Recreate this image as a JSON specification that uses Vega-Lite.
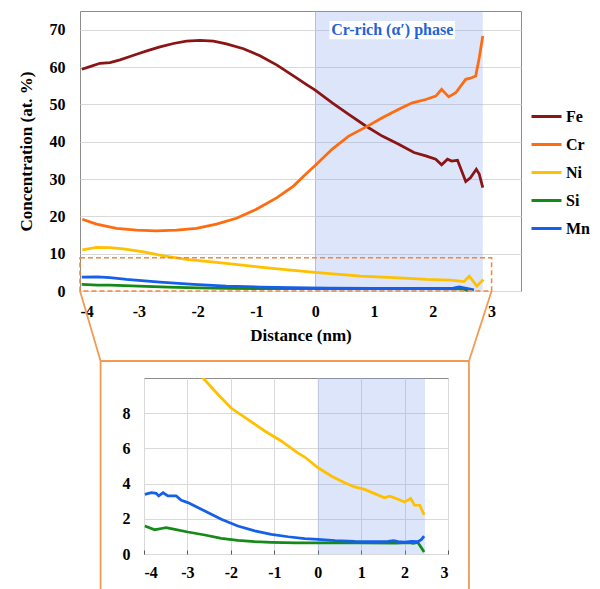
{
  "$schema": "https://vega.github.io/schema/vega-lite/v6.json",
  "background": "white",
  "padding": {"left": 16, "top": 10, "right": 0, "bottom": 0},
  "config": {
    "font": "Liberation Serif",
    "view": {"stroke": "#8c8c8c", "strokeWidth": 1},
    "axis": {
      "labelFont": "Liberation Serif", "labelFontWeight": "bold", "labelFontSize": 16, "labelColor": "black",
      "titleFont": "Liberation Serif", "titleFontWeight": "bold", "titleFontSize": 17, "titleColor": "black",
      "domain": false, "gridColor": "#d9d9d9", "gridWidth": 1, "ticks": false, "labelOverlap": false
    }
  },
  "datasets": {
    "top": [
      {"el": "Fe", "x": -3.97, "y": 59.4}, {"el": "Fe", "x": -3.83, "y": 60.1}, {"el": "Fe", "x": -3.66, "y": 61.0},
      {"el": "Fe", "x": -3.49, "y": 61.2}, {"el": "Fe", "x": -3.32, "y": 61.9}, {"el": "Fe", "x": -3.15, "y": 62.8},
      {"el": "Fe", "x": -3.0, "y": 63.6}, {"el": "Fe", "x": -2.85, "y": 64.4}, {"el": "Fe", "x": -2.64, "y": 65.4},
      {"el": "Fe", "x": -2.41, "y": 66.3}, {"el": "Fe", "x": -2.19, "y": 66.9}, {"el": "Fe", "x": -1.96, "y": 67.1},
      {"el": "Fe", "x": -1.73, "y": 66.9}, {"el": "Fe", "x": -1.51, "y": 66.2}, {"el": "Fe", "x": -1.22, "y": 64.9},
      {"el": "Fe", "x": -0.94, "y": 63.0}, {"el": "Fe", "x": -0.65, "y": 60.5}, {"el": "Fe", "x": -0.37, "y": 57.6},
      {"el": "Fe", "x": -0.14, "y": 55.2}, {"el": "Fe", "x": 0.0, "y": 53.8}, {"el": "Fe", "x": 0.29, "y": 50.4},
      {"el": "Fe", "x": 0.57, "y": 47.3}, {"el": "Fe", "x": 0.86, "y": 44.2}, {"el": "Fe", "x": 1.14, "y": 41.5},
      {"el": "Fe", "x": 1.42, "y": 39.3}, {"el": "Fe", "x": 1.68, "y": 37.1}, {"el": "Fe", "x": 1.88, "y": 36.2},
      {"el": "Fe", "x": 2.05, "y": 35.3}, {"el": "Fe", "x": 2.15, "y": 33.8}, {"el": "Fe", "x": 2.25, "y": 35.3},
      {"el": "Fe", "x": 2.32, "y": 34.8}, {"el": "Fe", "x": 2.42, "y": 35.0}, {"el": "Fe", "x": 2.47, "y": 33.0},
      {"el": "Fe", "x": 2.56, "y": 29.3}, {"el": "Fe", "x": 2.64, "y": 30.3}, {"el": "Fe", "x": 2.74, "y": 32.6},
      {"el": "Fe", "x": 2.79, "y": 31.3}, {"el": "Fe", "x": 2.85, "y": 27.7},
      {"el": "Cr", "x": -3.96, "y": 19.2}, {"el": "Cr", "x": -3.72, "y": 17.9}, {"el": "Cr", "x": -3.38, "y": 16.8},
      {"el": "Cr", "x": -3.04, "y": 16.3}, {"el": "Cr", "x": -2.7, "y": 16.1}, {"el": "Cr", "x": -2.36, "y": 16.3},
      {"el": "Cr", "x": -2.02, "y": 16.8}, {"el": "Cr", "x": -1.68, "y": 17.9}, {"el": "Cr", "x": -1.34, "y": 19.5},
      {"el": "Cr", "x": -1.0, "y": 21.9}, {"el": "Cr", "x": -0.65, "y": 25.0}, {"el": "Cr", "x": -0.37, "y": 28.1},
      {"el": "Cr", "x": -0.14, "y": 31.6}, {"el": "Cr", "x": 0.0, "y": 33.6}, {"el": "Cr", "x": 0.29, "y": 38.0},
      {"el": "Cr", "x": 0.57, "y": 41.5}, {"el": "Cr", "x": 0.86, "y": 43.9}, {"el": "Cr", "x": 1.14, "y": 46.4},
      {"el": "Cr", "x": 1.42, "y": 48.7}, {"el": "Cr", "x": 1.65, "y": 50.4}, {"el": "Cr", "x": 1.88, "y": 51.3},
      {"el": "Cr", "x": 2.05, "y": 52.2}, {"el": "Cr", "x": 2.15, "y": 54.0}, {"el": "Cr", "x": 2.27, "y": 52.0},
      {"el": "Cr", "x": 2.39, "y": 53.1}, {"el": "Cr", "x": 2.56, "y": 56.7}, {"el": "Cr", "x": 2.64, "y": 57.0},
      {"el": "Cr", "x": 2.73, "y": 57.6}, {"el": "Cr", "x": 2.79, "y": 62.5}, {"el": "Cr", "x": 2.85, "y": 68.3},
      {"el": "Ni", "x": -3.96, "y": 11.0}, {"el": "Ni", "x": -3.72, "y": 11.7}, {"el": "Ni", "x": -3.49, "y": 11.6},
      {"el": "Ni", "x": -3.26, "y": 11.3}, {"el": "Ni", "x": -2.92, "y": 10.5}, {"el": "Ni", "x": -2.58, "y": 9.4},
      {"el": "Ni", "x": -2.19, "y": 8.5}, {"el": "Ni", "x": -2.02, "y": 8.2}, {"el": "Ni", "x": -1.51, "y": 7.4},
      {"el": "Ni", "x": -0.94, "y": 6.4}, {"el": "Ni", "x": -0.37, "y": 5.5}, {"el": "Ni", "x": 0.0, "y": 5.0},
      {"el": "Ni", "x": 0.2, "y": 4.7}, {"el": "Ni", "x": 0.77, "y": 4.0}, {"el": "Ni", "x": 1.34, "y": 3.6},
      {"el": "Ni", "x": 1.9, "y": 3.1}, {"el": "Ni", "x": 2.3, "y": 2.9}, {"el": "Ni", "x": 2.53, "y": 2.5},
      {"el": "Ni", "x": 2.62, "y": 4.0}, {"el": "Ni", "x": 2.75, "y": 1.3}, {"el": "Ni", "x": 2.86, "y": 3.1},
      {"el": "Si", "x": -3.97, "y": 1.8}, {"el": "Si", "x": -3.7, "y": 1.6}, {"el": "Si", "x": -3.49, "y": 1.6},
      {"el": "Si", "x": -3.0, "y": 1.3}, {"el": "Si", "x": -2.5, "y": 1.05}, {"el": "Si", "x": -2.0, "y": 0.85},
      {"el": "Si", "x": -1.5, "y": 0.72}, {"el": "Si", "x": -1.0, "y": 0.66}, {"el": "Si", "x": 0.0, "y": 0.63},
      {"el": "Si", "x": 1.0, "y": 0.62}, {"el": "Si", "x": 2.0, "y": 0.62}, {"el": "Si", "x": 2.5, "y": 0.6},
      {"el": "Si", "x": 2.6, "y": 0.1},
      {"el": "Mn", "x": -3.97, "y": 3.7}, {"el": "Mn", "x": -3.7, "y": 3.75}, {"el": "Mn", "x": -3.49, "y": 3.6},
      {"el": "Mn", "x": -3.21, "y": 3.1}, {"el": "Mn", "x": -2.64, "y": 2.4}, {"el": "Mn", "x": -2.07, "y": 1.8},
      {"el": "Mn", "x": -1.51, "y": 1.3}, {"el": "Mn", "x": -0.94, "y": 1.05}, {"el": "Mn", "x": -0.4, "y": 0.9},
      {"el": "Mn", "x": 0.2, "y": 0.8}, {"el": "Mn", "x": 1.0, "y": 0.7}, {"el": "Mn", "x": 2.0, "y": 0.7},
      {"el": "Mn", "x": 2.35, "y": 0.75}, {"el": "Mn", "x": 2.45, "y": 1.1}, {"el": "Mn", "x": 2.55, "y": 0.8},
      {"el": "Mn", "x": 2.7, "y": 0.3}
    ],
    "inset": [
      {"el": "Ni", "x": -4.0, "y": 11.0}, {"el": "Ni", "x": -3.7, "y": 11.7}, {"el": "Ni", "x": -3.5, "y": 11.6},
      {"el": "Ni", "x": -3.25, "y": 11.3}, {"el": "Ni", "x": -2.9, "y": 10.5}, {"el": "Ni", "x": -2.64, "y": 10.0},
      {"el": "Ni", "x": -2.37, "y": 9.26}, {"el": "Ni", "x": -1.99, "y": 8.28}, {"el": "Ni", "x": -1.61, "y": 7.65},
      {"el": "Ni", "x": -1.22, "y": 6.99}, {"el": "Ni", "x": -0.84, "y": 6.42}, {"el": "Ni", "x": -0.47, "y": 5.76},
      {"el": "Ni", "x": -0.3, "y": 5.51}, {"el": "Ni", "x": 0.01, "y": 4.9}, {"el": "Ni", "x": 0.31, "y": 4.43},
      {"el": "Ni", "x": 0.62, "y": 4.05}, {"el": "Ni", "x": 0.85, "y": 3.81}, {"el": "Ni", "x": 1.08, "y": 3.67},
      {"el": "Ni", "x": 1.31, "y": 3.43}, {"el": "Ni", "x": 1.54, "y": 3.2}, {"el": "Ni", "x": 1.66, "y": 3.28},
      {"el": "Ni", "x": 1.85, "y": 3.11}, {"el": "Ni", "x": 2.0, "y": 2.95}, {"el": "Ni", "x": 2.14, "y": 3.16},
      {"el": "Ni", "x": 2.23, "y": 2.78}, {"el": "Ni", "x": 2.35, "y": 2.77}, {"el": "Ni", "x": 2.45, "y": 2.22},
      {"el": "Si", "x": -3.98, "y": 1.59}, {"el": "Si", "x": -3.75, "y": 1.38}, {"el": "Si", "x": -3.6, "y": 1.45},
      {"el": "Si", "x": -3.49, "y": 1.5}, {"el": "Si", "x": -3.29, "y": 1.4}, {"el": "Si", "x": -2.99, "y": 1.25},
      {"el": "Si", "x": -2.6, "y": 1.08}, {"el": "Si", "x": -2.22, "y": 0.89}, {"el": "Si", "x": -1.84, "y": 0.78},
      {"el": "Si", "x": -1.45, "y": 0.7}, {"el": "Si", "x": -1.07, "y": 0.66}, {"el": "Si", "x": -0.5, "y": 0.63},
      {"el": "Si", "x": 0.0, "y": 0.63}, {"el": "Si", "x": 1.0, "y": 0.63}, {"el": "Si", "x": 1.8, "y": 0.62},
      {"el": "Si", "x": 2.1, "y": 0.64}, {"el": "Si", "x": 2.2, "y": 0.6}, {"el": "Si", "x": 2.3, "y": 0.66},
      {"el": "Si", "x": 2.35, "y": 0.5}, {"el": "Si", "x": 2.45, "y": 0.11},
      {"el": "Mn", "x": -3.98, "y": 3.39}, {"el": "Mn", "x": -3.83, "y": 3.48}, {"el": "Mn", "x": -3.72, "y": 3.45},
      {"el": "Mn", "x": -3.66, "y": 3.3}, {"el": "Mn", "x": -3.56, "y": 3.48}, {"el": "Mn", "x": -3.45, "y": 3.3},
      {"el": "Mn", "x": -3.26, "y": 3.3}, {"el": "Mn", "x": -3.14, "y": 3.05}, {"el": "Mn", "x": -2.99, "y": 2.92},
      {"el": "Mn", "x": -2.6, "y": 2.44}, {"el": "Mn", "x": -2.22, "y": 1.97}, {"el": "Mn", "x": -1.84, "y": 1.59},
      {"el": "Mn", "x": -1.45, "y": 1.31}, {"el": "Mn", "x": -1.07, "y": 1.12}, {"el": "Mn", "x": -0.68, "y": 0.98},
      {"el": "Mn", "x": -0.3, "y": 0.88}, {"el": "Mn", "x": 0.01, "y": 0.83}, {"el": "Mn", "x": 0.4, "y": 0.76},
      {"el": "Mn", "x": 0.85, "y": 0.72}, {"el": "Mn", "x": 1.3, "y": 0.71}, {"el": "Mn", "x": 1.62, "y": 0.72},
      {"el": "Mn", "x": 1.75, "y": 0.76}, {"el": "Mn", "x": 1.85, "y": 0.7}, {"el": "Mn", "x": 2.0, "y": 0.68},
      {"el": "Mn", "x": 2.16, "y": 0.72}, {"el": "Mn", "x": 2.31, "y": 0.7}, {"el": "Mn", "x": 2.39, "y": 0.83},
      {"el": "Mn", "x": 2.45, "y": 1.02}
    ]
  },
  "bounds": "flush",
  "spacing": 87,
  "resolve": {"scale": {"color": "independent"}, "legend": {"color": "independent"}},
  "vconcat": [
    {
      "width": 441,
      "height": 280,
      "layer": [
        {
          "data": {"values": [{"x0": 0, "x1": 2.85}]},
          "mark": {"type": "rect", "color": "#7fa0e8", "opacity": 0.27},
          "encoding": {
            "x": {"field": "x0", "type": "quantitative", "scale": {"domain": [-4, 3.5], "nice": false, "zero": false},
              "axis": {"values": [-4, -3, -2, -1, 0, 1, 2, 3], "tickCount": 12, "title": "Distance (nm)", "labelPadding": 12, "titlePadding": 8,
                "labelExpr": "datum.value < 0 ? '-' + abs(datum.value) : '' + datum.value",
                "grid": true, "gridColor": "#c8c8c8", "gridOpacity": {"condition": {"test": "datum.value === 0", "value": 1}, "value": 0}}},
            "x2": {"field": "x1"}
          }
        },
        {
          "data": {"name": "top"},
          "mark": {"type": "line", "strokeWidth": 2.75},
          "encoding": {
            "x": {"field": "x", "type": "quantitative"},
            "y": {"field": "y", "type": "quantitative", "scale": {"domain": [0, 75], "nice": false},
              "axis": {"values": [0, 10, 20, 30, 40, 50, 60, 70], "tickCount": 12, "title": "Concentration (at. %)", "labelPadding": 15, "titlePadding": 14, "grid": true}},
            "color": {"field": "el", "type": "nominal",
              "scale": {"domain": ["Fe", "Cr", "Ni", "Si", "Mn"], "range": ["#8B1414", "#FF6B0F", "#FFC000", "#148A18", "#1560E8"]},
              "legend": {"orient": "none", "legendX": 450, "legendY": 89, "title": null, "symbolType": "stroke", "symbolStrokeWidth": 3, "symbolSize": 900,
                "labelFont": "Liberation Serif", "labelFontWeight": "bold", "labelFontSize": 16, "labelColor": "black", "labelOffset": 3, "rowPadding": 3}}
          }
        },
        {
          "data": {"values": [{"a": 0.243, "b": 2.377, "c": 67.4, "d": 72.3}]},
          "mark": {"type": "rect", "color": "white"},
          "encoding": {"x": {"field": "a", "type": "quantitative"}, "x2": {"field": "b"}, "y": {"field": "c", "type": "quantitative"}, "y2": {"field": "d"}}
        },
        {
          "data": {"values": [{"x": 1.31, "y": 69.9, "label": "Cr-rich (α′) phase"}]},
          "mark": {"type": "text", "font": "Liberation Serif", "fontWeight": "bold", "fontSize": 16, "color": "#1F63D9", "align": "center", "baseline": "middle"},
          "encoding": {"x": {"field": "x", "type": "quantitative"}, "y": {"field": "y", "type": "quantitative"}, "text": {"field": "label"}}
        },
        {
          "data": {"values": [{"a": -4, "b": 3, "c": 0, "d": 8.9}]},
          "mark": {"type": "rect", "fill": null, "fillOpacity": 0, "stroke": "#F0883E", "strokeWidth": 1.5, "strokeDash": [5, 3]},
          "encoding": {"x": {"field": "a", "type": "quantitative"}, "x2": {"field": "b"}, "y": {"field": "c", "type": "quantitative"}, "y2": {"field": "d"}}
        },
        {
          "data": {"values": [
            {"a": -4, "c": 0, "b": -3.65, "d": -18.75},
            {"a": 3, "c": 0, "b": 2.615, "d": -18.75},
            {"a": -3.65, "c": -18.75, "b": 2.615, "d": -18.75},
            {"a": -3.65, "c": -18.75, "b": -3.65, "d": -80},
            {"a": 2.615, "c": -18.75, "b": 2.615, "d": -80}
          ]},
          "mark": {"type": "rule", "color": "#F39A55", "strokeWidth": 1.8, "clip": false},
          "encoding": {"x": {"field": "a", "type": "quantitative"}, "x2": {"field": "b"}, "y": {"field": "c", "type": "quantitative"}, "y2": {"field": "d"}}
        }
      ]
    },
    {
      "bounds": "flush",
      "spacing": 0,
      "hconcat": [
        {
          "width": 64,
          "height": 176,
          "view": {"stroke": null},
          "data": {"values": [{"a": 0}]},
          "mark": {"type": "point", "opacity": 0}
        },
        {
          "width": 304,
          "height": 176,
          "layer": [
            {
              "data": {"values": [{"x0": 0, "x1": 2.47}]},
              "mark": {"type": "rect", "color": "#7fa0e8", "opacity": 0.27},
              "encoding": {
                "x": {"field": "x0", "type": "quantitative", "scale": {"domain": [-4, 3], "nice": false, "zero": false},
                  "axis": {"values": [-4, -3, -2, -1, 0, 1, 2, 3], "tickCount": 12, "title": null, "labelPadding": 14, "grid": true,
                    "ticks": true, "tickSize": -4, "tickColor": "#595959", "tickWidth": 1,
                    "labelExpr": "datum.value < 0 ? '-' + abs(datum.value) : '' + datum.value"}},
                "x2": {"field": "x1"}
              }
            },
            {
              "data": {"name": "inset"},
              "mark": {"type": "line", "strokeWidth": 2.75, "clip": true},
              "encoding": {
                "x": {"field": "x", "type": "quantitative"},
                "y": {"field": "y", "type": "quantitative", "scale": {"domain": [0, 10], "nice": false},
                  "axis": {"values": [0, 2, 4, 6, 8], "tickCount": 12, "title": null, "labelPadding": 14, "grid": true}},
                "color": {"field": "el", "type": "nominal",
                  "scale": {"domain": ["Ni", "Si", "Mn"], "range": ["#FFC000", "#148A18", "#1560E8"]}, "legend": null}
              }
            }
          ]
        }
      ]
    }
  ]
}
